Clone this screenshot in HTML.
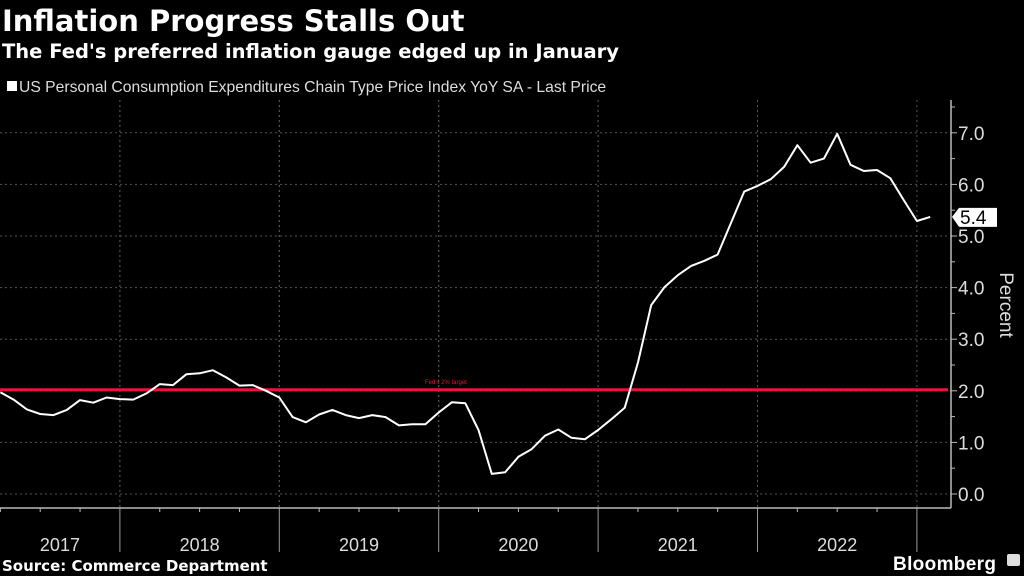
<!DOCTYPE html>
<html><head><meta charset="utf-8"><style>
html,body{margin:0;padding:0;background:#000;}
body{width:1024px;height:576px;overflow:hidden;position:relative;font-family:"Liberation Sans","DejaVu Sans",sans-serif;color:#fff;}
svg{position:absolute;left:0;top:0;}
</style></head><body>
<svg id="chart" width="1024" height="576">
<text x="2" y="31" font-size="29" font-weight="bold" fill="#fff" font-family="DejaVu Sans, sans-serif">Inflation Progress Stalls Out</text>
<text x="2" y="58" font-size="19.5" font-weight="bold" fill="#fff" font-family="DejaVu Sans, sans-serif">The Fed's preferred inflation gauge edged up in January</text>
<rect x="7" y="81" width="10" height="10" fill="#fff"/>
<text x="19" y="92" font-size="15.7" fill="#ddd">US Personal Consumption Expenditures Chain Type Price Index YoY SA - Last Price</text>
<text x="2" y="571" font-size="15" font-weight="bold" fill="#fff" font-family="DejaVu Sans, sans-serif">Source: Commerce Department</text>
<text x="893" y="570" font-size="19" font-weight="bold" fill="#fff" textLength="103">Bloomberg</text>
<rect x="1007" y="554" width="13" height="12" rx="2" fill="#ddd"/>
<text x="1000" y="305" font-size="19" fill="#ddd" transform="rotate(90 1000 305)" text-anchor="middle">Percent</text>
<g id="g"></g>
</svg>
<script>
const years = ["2017","2018","2019","2020","2021","2022"];
const yTicks = [0,1,2,3,4,5,6,7];
const yTickLabels = ["0.0","1.0","2.0","3.0","4.0","5.0","6.0","7.0"];
const startMonth = 3; // April 2017 (months since Jan 2017)
const pce = [1.97,1.83,1.64,1.55,1.53,1.63,1.82,1.77,1.87,1.84,1.83,1.95,2.13,2.11,2.32,2.34,2.40,2.26,2.10,2.11,2.00,1.87,1.49,1.39,1.54,1.63,1.53,1.47,1.53,1.49,1.33,1.35,1.35,1.58,1.78,1.76,1.24,0.39,0.42,0.72,0.87,1.13,1.25,1.09,1.06,1.24,1.45,1.67,2.55,3.66,4.01,4.24,4.42,4.52,4.64,5.25,5.86,5.97,6.10,6.34,6.76,6.42,6.50,6.98,6.38,6.26,6.28,6.12,5.70,5.29,5.37];
const target = 2;
const lastLabel = "5.4";

const NS="http://www.w3.org/2000/svg";
const g=document.getElementById('g');
const X0=-39.5, MW=159.4/12, PR=951, PT=100, PB=508;
const xM=m=>X0+m*MW;
const yV=v=>494-v*51.6;
function el(t,a){const e=document.createElementNS(NS,t);for(const k in a)e.setAttribute(k,a[k]);g.appendChild(e);return e;}
yTicks.forEach((v,i)=>{
  const l=el('line',{x1:0,x2:PR,y1:yV(v),y2:yV(v),stroke:'#555','stroke-dasharray':'2,3','stroke-width':1});
  
  
  const t=el('line',{x1:PR,x2:PR+6,y1:yV(v),y2:yV(v),stroke:'#bbb'});
  
  
  const m=el('line',{x1:PR,x2:PR+4,y1:yV(v+0.5),y2:yV(v+0.5),stroke:'#bbb'});
  
  
  const tx=el('text',{x:958,y:yV(v)+7,'font-size':19,fill:'#ddd'});
  tx.textContent=yTickLabels[i];
  
  
});
years.forEach((y,i)=>{
  const xs=xM(i*12), xe=xM(i*12+12);
  if(i>0){
    const d=el('line',{x1:xs,x2:xs,y1:PT,y2:PB,stroke:'#555','stroke-dasharray':'2,3'});
    
    
  }
  if(xe<PR){
    const d2=el('line',{x1:xe,x2:xe,y1:PT,y2:PB,stroke:'#555','stroke-dasharray':'2,3'});
    
    
  }
  const s=el('line',{x1:xe,x2:xe,y1:PB,y2:552,stroke:'#999'});
  
  
  for(let q=1;q<4;q++){const qx=xM(i*12+q*3);if(qx>0){
    const tk=el('line',{x1:qx,x2:qx,y1:PB,y2:PB+4,stroke:'#bbb'});
    
    }}
  const c=(Math.max(xs,0)+xe)/2;
  const t=el('text',{x:c,y:551,'font-size':18,fill:'#ddd','text-anchor':'middle'});
  t.textContent=y;
  
  
});
const ax=el('line',{x1:0,x2:PR,y1:PB,y2:PB,stroke:'#bbb','stroke-width':1.5});


const ay=el('line',{x1:PR,x2:PR,y1:PT,y2:PB,stroke:'#bbb','stroke-width':1.5});


const tl=el('line',{x1:0,x2:PR-3,y1:yV(target)-1,y2:yV(target)-1,stroke:'#e8143c','stroke-width':3});


const tt=el('text',{x:425,y:yV(target)-7,'font-size':6,fill:'#e8143c'});
tt.textContent="Fed's 2% target";


const pts=pce.map((v,i)=>xM(startMonth+i).toFixed(1)+','+yV(v).toFixed(1)).join(' ');
const pl=el('polyline',{points:pts,fill:'none',stroke:'#fff','stroke-width':2,'stroke-linejoin':'round'});


const ly=yV(pce[pce.length-1]);
const lb=el('path',{d:`M${PR+1} ${ly} L${PR+8} ${ly-9} L${PR+46} ${ly-9} L${PR+46} ${ly+10} L${PR+8} ${ly+10} Z`,fill:'#fff'});


const lt=el('text',{x:PR+9,y:ly+7,'font-size':19,fill:'#000'});
lt.textContent=lastLabel;


</script>
</body></html>
